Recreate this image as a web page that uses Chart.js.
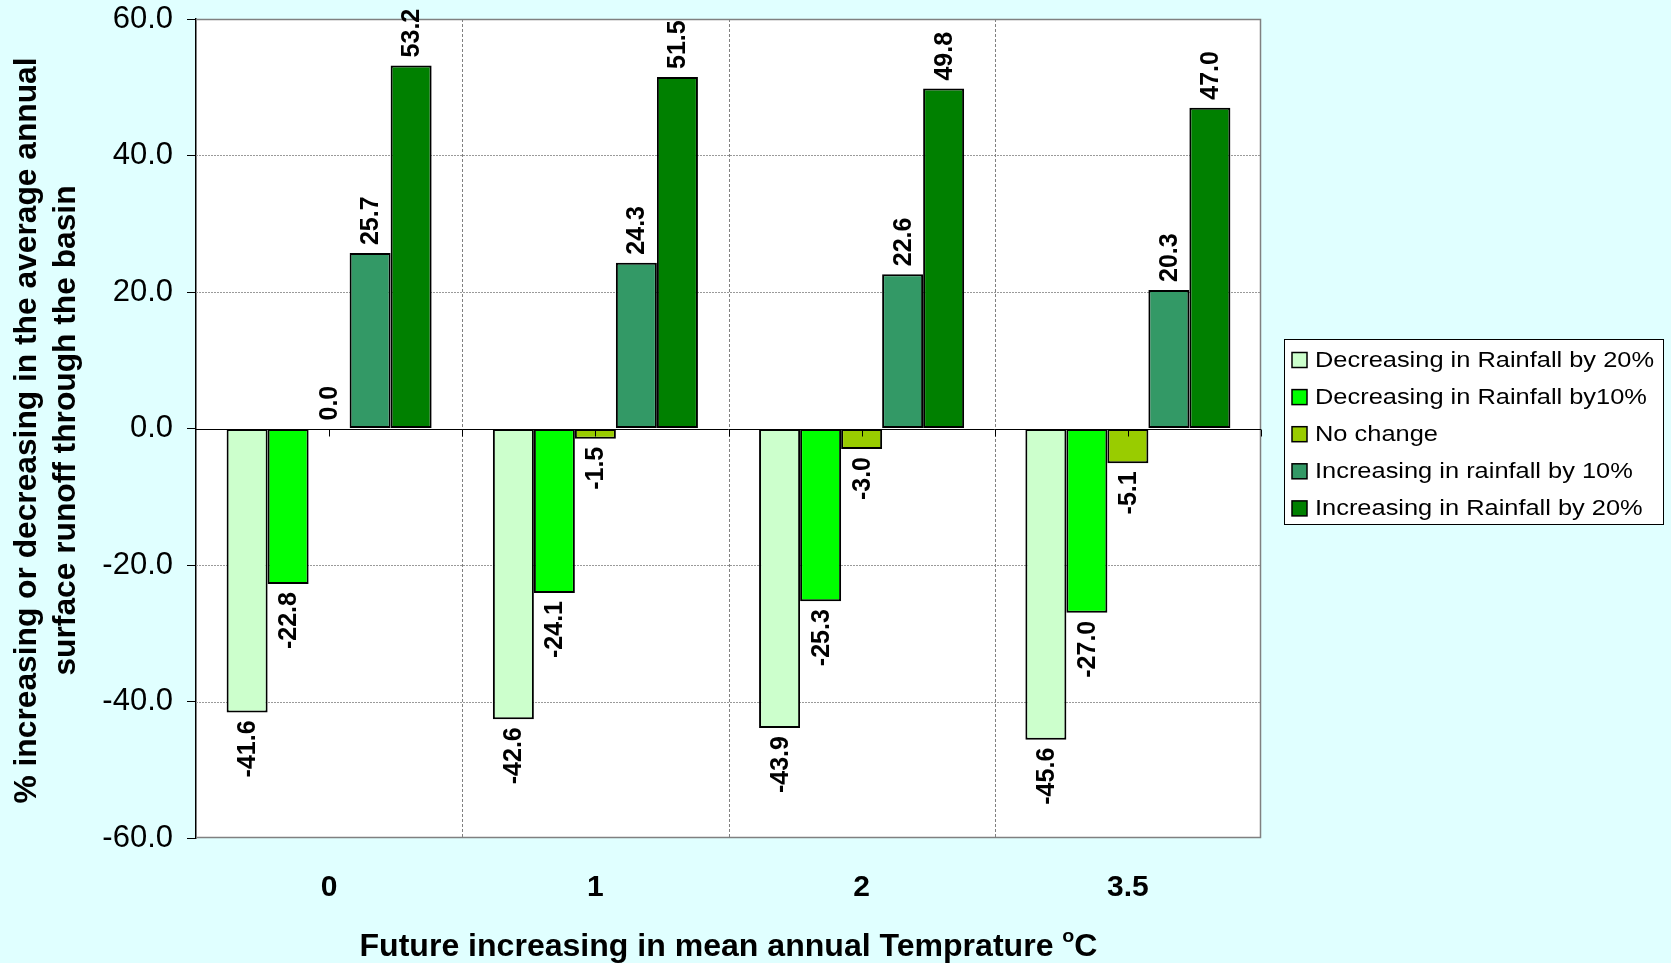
<!DOCTYPE html>
<html>
<head>
<meta charset="utf-8">
<script src="https://cdn.jsdelivr.net/npm/chart.js@4.4.1/dist/chart.umd.min.js"></script>
<style>
  html, body { margin: 0; padding: 0; background: #E0FFFF; }
  #wrap { width: 1671px; height: 963px; position: relative; }
</style>
</head>
<body>
<div id="wrap"><canvas id="runoff" width="1671" height="963"></canvas></div>
<script>
// Temperature rise scenarios (°C)
const categories = ['0', '1', '2', '3.5'];

// Rainfall scenarios
const seriesNames = [
  'Decreasing in Rainfall by 20%',
  'Decreasing in Rainfall by10%',
  'No change',
  'Increasing in rainfall by 10%',
  'Increasing in Rainfall by 20%'
];
const seriesColors = ['#CCFFCC', '#00FF00', '#99CC00', '#339966', '#008000'];

// % change in average annual surface runoff
const rainMinus20 = [-41.6, -42.6, -43.9, -45.6];
const rainMinus10 = [-22.8, -24.1, -25.3, -27.0];
const rainNoChange = [0.0, -1.5, -3.0, -5.1];
const rainPlus10 = [25.7, 24.3, 22.6, 20.3];
const rainPlus20 = [53.2, 51.5, 49.8, 47.0];

const yMin = -60, yMax = 60, yStep = 20;

const yTitleLines = ['% increasing or decreasing in the average annual', 'surface runoff through the basin'];
const xTitleMain = 'Future increasing in mean annual Temprature ';
const xTitleSup = 'o';
const xTitleUnit = 'C';

const seriesValues = [rainMinus20, rainMinus10, rainNoChange, rainPlus10, rainPlus20];

const datasets = seriesValues.map((vals, i) => ({
  label: seriesNames[i],
  data: vals,
  backgroundColor: seriesColors[i],
  borderColor: '#000000',
  borderWidth: 2,
  borderSkipped: false,
  categoryPercentage: 0.77,
  barPercentage: 1.0
}));

// Page background + white plot area
const backdrop = {
  id: 'backdrop',
  beforeDraw(chart) {
    const { ctx, chartArea: a } = chart;
    ctx.save();
    ctx.fillStyle = '#E0FFFF';
    ctx.fillRect(0, 0, chart.width, chart.height);
    ctx.fillStyle = '#FFFFFF';
    ctx.fillRect(a.left, a.top, a.right - a.left, a.bottom - a.top);
    ctx.restore();
  }
};

// Dotted grid lines behind the bars
const plotGrid = {
  id: 'plotGrid',
  beforeDatasetsDraw(chart) {
    const { ctx, chartArea: a, scales: { x, y } } = chart;
    ctx.save();
    ctx.lineWidth = 1;
    ctx.strokeStyle = '#9a9a9a';
    ctx.setLineDash([2, 1]);
    for (let v = yMin + yStep; v < yMax; v += yStep) {
      if (v === 0) continue;
      const py = Math.round(y.getPixelForValue(v)) + 0.5;
      ctx.beginPath(); ctx.moveTo(a.left, py); ctx.lineTo(a.right, py); ctx.stroke();
    }
    const step = x.getPixelForValue(1) - x.getPixelForValue(0);
    ctx.strokeStyle = '#808080';
    ctx.setLineDash([3, 2]);
    for (let i = 0; i < categories.length - 1; i++) {
      const px = Math.round(x.getPixelForValue(i) + step / 2) + 0.5;
      ctx.beginPath(); ctx.moveTo(px, a.top); ctx.lineTo(px, a.bottom); ctx.stroke();
    }
    ctx.restore();
  }
};

// Zero line, plot frame, value labels, legend and axis titles
const overlay = {
  id: 'overlay',
  afterDatasetsDraw(chart) {
    const { ctx, chartArea: a, scales: { x, y } } = chart;
    ctx.save();

    // frame (top, right, bottom)
    ctx.strokeStyle = '#808080';
    ctx.lineWidth = 1.5;
    ctx.beginPath();
    ctx.moveTo(a.left, a.top + 0.5); ctx.lineTo(a.right - 0.5, a.top + 0.5);
    ctx.lineTo(a.right - 0.5, a.bottom - 0.5); ctx.lineTo(a.left, a.bottom - 0.5);
    ctx.stroke();

    // zero line with category ticks
    const y0 = Math.round(y.getPixelForValue(0)) + 0.5;
    ctx.strokeStyle = '#000000';
    ctx.lineWidth = 1;
    ctx.beginPath(); ctx.moveTo(a.left, y0); ctx.lineTo(a.right, y0); ctx.stroke();
    const step = x.getPixelForValue(1) - x.getPixelForValue(0);
    for (let i = 0; i < categories.length; i++) {
      const c = x.getPixelForValue(i);
      [c, c + step / 2].forEach(px => {
        const p = Math.round(px) + 0.5;
        ctx.beginPath(); ctx.moveTo(p, y0); ctx.lineTo(p, y0 + 7); ctx.stroke();
      });
    }

    // value labels, rotated
    ctx.fillStyle = '#000000';
    ctx.font = 'bold 25px "Liberation Sans", Arial, sans-serif';
    ctx.textBaseline = 'middle';
    chart.data.datasets.forEach((ds, di) => {
      const meta = chart.getDatasetMeta(di);
      meta.data.forEach((bar, i) => {
        const v = ds.data[i];
        ctx.save();
        ctx.translate(bar.x, bar.y + (v >= 0 ? -8 : 8));
        ctx.rotate(-Math.PI / 2);
        ctx.textAlign = v >= 0 ? 'left' : 'right';
        ctx.fillText(v.toFixed(1), 0, 1);
        ctx.restore();
      });
    });

    // legend
    const lx = 1284, ly = 339, lw = 380, lh = 186;
    ctx.fillStyle = '#FFFFFF';
    ctx.fillRect(lx, ly, lw, lh);
    ctx.strokeStyle = '#000000';
    ctx.lineWidth = 1;
    ctx.strokeRect(lx + 0.5, ly + 0.5, lw - 1, lh - 1);
    ctx.font = '22px "Liberation Sans", Arial, sans-serif';
    const sx = 339 / ctx.measureText(seriesNames[0]).width;
    chart.data.datasets.forEach((ds, i) => {
      const cy = 360 + i * 37.1;
      ctx.fillStyle = ds.backgroundColor;
      ctx.fillRect(1292, cy - 7.5, 15, 15);
      ctx.strokeStyle = '#000000';
      ctx.lineWidth = 1.5;
      ctx.strokeRect(1292, cy - 7.5, 15, 15);
      ctx.save();
      ctx.translate(1315, cy + 1);
      ctx.scale(sx, 1);
      ctx.fillStyle = '#000000';
      ctx.textAlign = 'left';
      ctx.textBaseline = 'middle';
      ctx.fillText(ds.label, 0, 0);
      ctx.restore();
    });

    // y axis title, two condensed lines
    ctx.font = 'bold 31px "Liberation Sans", Arial, sans-serif';
    const ys = 746 / ctx.measureText(yTitleLines[0]).width;
    const yc = (a.top + a.bottom) / 2 + 2;
    [27, 66].forEach((cx, i) => {
      ctx.save();
      ctx.translate(cx, yc);
      ctx.rotate(-Math.PI / 2);
      ctx.scale(ys, 1);
      ctx.fillStyle = '#000000';
      ctx.textAlign = 'center';
      ctx.textBaseline = 'middle';
      ctx.fillText(yTitleLines[i], 0, 0);
      ctx.restore();
    });

    // x axis title with superscript degree mark
    ctx.font = 'bold 31px "Liberation Sans", Arial, sans-serif';
    const wMain = ctx.measureText(xTitleMain).width;
    const wUnit = ctx.measureText(xTitleUnit).width;
    ctx.font = 'bold 19px "Liberation Sans", Arial, sans-serif';
    const wSup = ctx.measureText(xTitleSup).width;
    const total = wMain + wSup + wUnit;
    const xs = 738 / total;
    const xc = (a.left + a.right) / 2;
    ctx.save();
    ctx.translate(xc - 738 / 2, 947);
    ctx.scale(xs, 1);
    ctx.fillStyle = '#000000';
    ctx.textAlign = 'left';
    ctx.textBaseline = 'middle';
    ctx.font = 'bold 31px "Liberation Sans", Arial, sans-serif';
    ctx.fillText(xTitleMain, 0, 0);
    ctx.font = 'bold 19px "Liberation Sans", Arial, sans-serif';
    ctx.fillText(xTitleSup, wMain, -10);
    ctx.font = 'bold 31px "Liberation Sans", Arial, sans-serif';
    ctx.fillText(xTitleUnit, wMain + wSup, 0);
    ctx.restore();

    ctx.restore();
  }
};

new Chart(document.getElementById('runoff'), {
  type: 'bar',
  data: { labels: categories, datasets },
  options: {
    responsive: false,
    animation: false,
    devicePixelRatio: 1,
    layout: { padding: { top: 19, right: 410, left: 0, bottom: 0 } },
    plugins: {
      legend: { display: false },
      tooltip: { enabled: false }
    },
    scales: {
      x: {
        grid: { display: false, drawTicks: false },
        border: { display: false },
        ticks: {
          color: '#000000',
          padding: 32,
          font: { family: '"Liberation Sans", Arial, sans-serif', size: 30, weight: 'bold' }
        },
        afterFit(scale) { scale.height = 125; scale.paddingLeft = 0; scale.paddingRight = 0; }
      },
      y: {
        min: yMin,
        max: yMax,
        grid: { drawOnChartArea: false, drawTicks: true, tickLength: 9, tickColor: '#000000', tickWidth: 1 },
        border: { display: true, color: '#000000', width: 1.5 },
        ticks: {
          stepSize: yStep,
          color: '#000000',
          padding: 14,
          font: { family: '"Liberation Sans", Arial, sans-serif', size: 31 },
          callback: v => Number(v).toFixed(1)
        },
        afterFit(scale) { scale.width = 196; scale.paddingTop = 0; scale.paddingBottom = 0; }
      }
    }
  },
  plugins: [backdrop, plotGrid, overlay]
});
</script>
</body>
</html>
